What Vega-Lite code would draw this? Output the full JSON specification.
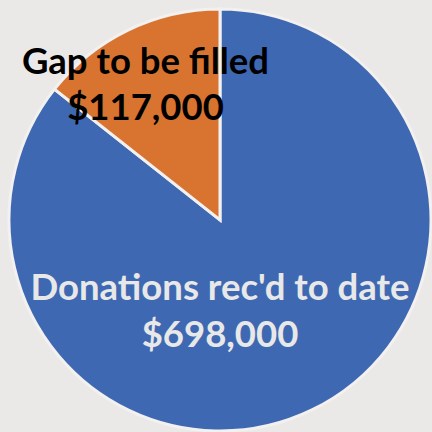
{
  "$schema": "https://vega.github.io/schema/vega-lite/v6.json",
  "width": 420,
  "height": 420,
  "autosize": {"type": "none"},
  "padding": {"left": 10, "top": 10, "right": 2, "bottom": 2},
  "background": "#eae9e7",
  "view": {"stroke": null},
  "data": {
    "values": [
      {"category": "Donations rec'd to date", "value": 698000, "label": "Donations rec'd to date\n$698,000"},
      {"category": "Gap to be filled", "value": 117000, "label": "Gap to be filled\n$117,000"}
    ]
  },
  "layer": [
    {
      "mark": {"type": "arc", "outerRadius": 211, "stroke": "#f2f1f0", "strokeWidth": 3},
      "encoding": {
        "theta": {"field": "value", "type": "quantitative", "stack": true},
        "color": {
          "field": "category",
          "type": "nominal",
          "scale": {"domain": ["Donations rec'd to date", "Gap to be filled"], "range": ["#3f68b2", "#d97430"]},
          "legend": null
        }
      }
    },
    {
      "mark": {"type": "text", "radius": 148, "dx": -10, "dy": -24, "font": "Lato", "fontWeight": "bold", "fontSize": 36.5, "lineHeight": 46, "lineBreak": "\n", "color": "#000000", "align": "center", "baseline": "middle"},
      "encoding": {
        "theta": {"field": "value", "type": "quantitative", "stack": true},
        "text": {"condition": {"test": "datum.category === 'Gap to be filled'", "field": "label"}, "value": ""}
      }
    },
    {
      "mark": {"type": "text", "radius": 0, "dy": 69, "font": "Lato", "fontWeight": "bold", "fontSize": 36.5, "lineHeight": 47, "lineBreak": "\n", "color": "#e8e8e8", "align": "center", "baseline": "middle"},
      "encoding": {
        "theta": {"field": "value", "type": "quantitative", "stack": true},
        "text": {"condition": {"test": "datum.category === 'Donations rec\\'d to date'", "field": "label"}, "value": ""}
      }
    }
  ]
}
